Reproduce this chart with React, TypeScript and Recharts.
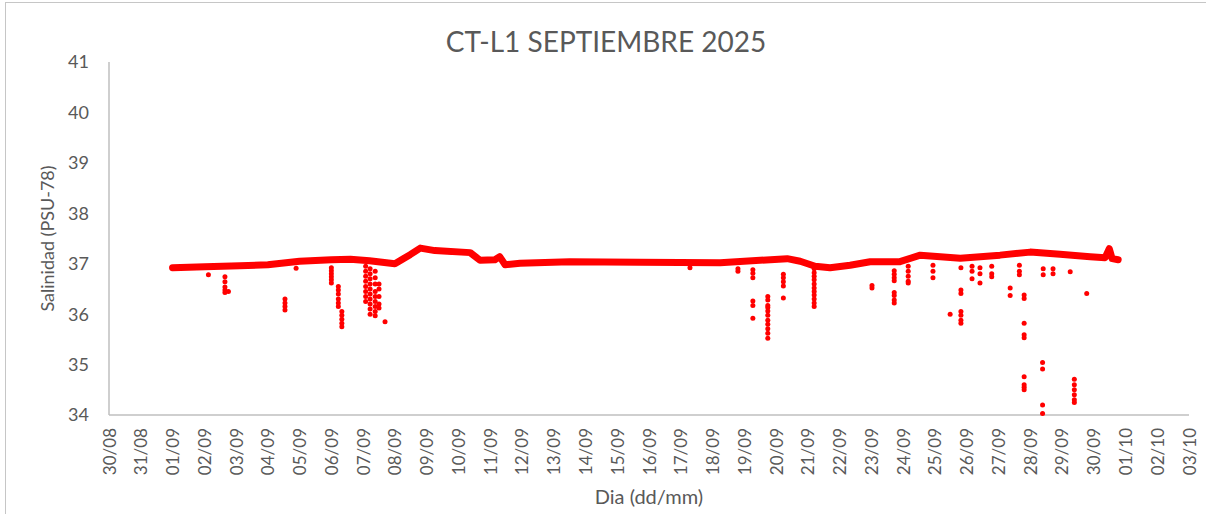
import React from "react";
import { ComposedChart, Line, Scatter, XAxis, YAxis } from "recharts";

// x values are days counted from 30/08 (0) to 03/10 (34)
const dayLabels = [
  "30/08", "31/08", "01/09", "02/09", "03/09", "04/09", "05/09", "06/09",
  "07/09", "08/09", "09/09", "10/09", "11/09", "12/09", "13/09", "14/09",
  "15/09", "16/09", "17/09", "18/09", "19/09", "20/09", "21/09", "22/09",
  "23/09", "24/09", "25/09", "26/09", "27/09", "28/09", "29/09", "30/09",
  "01/10", "02/10", "03/10",
];
const dayTicks = dayLabels.map((_, i) => i);
const salTicks = [34, 35, 36, 37, 38, 39, 40, 41];

// main continuous trace
const traceDays = [
  2.0, 3.02, 4.12, 5.0, 6.0, 7.0, 7.6, 8.2, 9.0, 9.48, 9.8, 10.26, 11.37,
  11.68, 12.15, 12.3, 12.47, 12.94, 14.5, 16.7, 19.24, 21.35, 21.76, 22.23,
  22.7, 23.33, 23.96, 24.9, 25.54, 26.8, 28.05, 29.0, 29.94, 30.89, 31.36,
  31.49, 31.58, 31.77,
];
const traceSal = [
  36.92, 36.94, 36.96, 36.98, 37.05, 37.08, 37.09, 37.06, 37.0, 37.18, 37.31,
  37.26, 37.22, 37.07, 37.08, 37.14, 36.98, 37.01, 37.04, 37.03, 37.02, 37.1,
  37.05, 36.95, 36.92, 36.97, 37.04, 37.04, 37.17, 37.11, 37.17, 37.23, 37.19,
  37.14, 37.12, 37.3, 37.1, 37.08,
];

// low readings below the trace, grouped by time
const dropDays = [
  3.13, 3.65, 3.76, 5.54, 5.89, 7.0, 7.22, 7.33, 8.08, 8.22, 8.38, 8.5, 8.69,
  18.29, 19.8, 20.27, 20.74, 21.23, 22.2, 24.02, 24.72, 25.16, 25.94, 26.48,
  26.82, 27.17, 27.42, 27.79, 28.37, 28.66, 28.81, 29.39, 29.41, 29.72, 30.26,
  30.39, 30.78,
];
const dropSal = [
  [36.78],
  [36.74, 36.64, 36.54, 36.48, 36.43],
  [36.45],
  [36.3, 36.22, 36.15, 36.08],
  [36.91],
  [36.92, 36.86, 36.8, 36.74, 36.68, 36.62],
  [36.55, 36.48, 36.4, 36.3, 36.22, 36.15],
  [36.05, 35.98, 35.9, 35.82, 35.75],
  [36.95, 36.85, 36.75, 36.65, 36.55, 36.45, 36.35, 36.25],
  [36.9, 36.8, 36.7, 36.6, 36.5, 36.4, 36.3, 36.2, 36.1, 36.0],
  [36.85, 36.72, 36.6, 36.45, 36.35, 36.25, 36.15, 36.05, 35.97],
  [36.6, 36.5, 36.35, 36.2, 36.12],
  [35.85],
  [36.92],
  [36.9, 36.85],
  [36.88, 36.81, 36.72, 36.26, 36.17, 35.92],
  [36.35, 36.28, 36.17, 36.13, 36.06, 35.98, 35.88, 35.8, 35.71, 35.62, 35.52],
  [36.79, 36.72, 36.64, 36.56, 36.32],
  [36.9, 36.82, 36.75, 36.68, 36.6, 36.52, 36.45, 36.38, 36.3, 36.22, 36.15],
  [36.57, 36.52],
  [36.86, 36.79, 36.72, 36.66, 36.43, 36.37, 36.28, 36.22],
  [36.95, 36.85, 36.75, 36.65, 36.62],
  [36.97, 36.85, 36.72],
  [36.0],
  [36.92, 36.48, 36.41, 36.05, 35.98, 35.88, 35.82],
  [36.95, 36.85, 36.7],
  [36.92, 36.8, 36.62],
  [36.95, 36.8, 36.74],
  [36.52, 36.37],
  [36.97, 36.85, 36.78],
  [36.38, 36.31, 35.82, 35.59, 35.53, 34.76, 34.6, 34.55, 34.5],
  [35.04, 34.91, 34.2, 34.03],
  [36.9, 36.78],
  [36.9, 36.8],
  [36.84],
  [34.71, 34.6, 34.5, 34.4, 34.3, 34.25],
  [36.41],
];

const traceData = traceDays.map((d, i) => ({ d, v: traceSal[i] }));
const dropData = dropDays.flatMap((d, i) => dropSal[i].map((v) => ({ d, v })));

const RED = "#ff0000";
const GREY_TEXT = "#595959";
const AXIS = "#bfbfbf";
const FONT = "Lato, 'Noto Sans', sans-serif";

function DayTick({ x, y, payload }: any) {
  const ty = y + 5;
  return (
    <text
      x={x}
      y={ty}
      transform={`rotate(-90 ${x} ${ty})`}
      textAnchor="end"
      dominantBaseline="central"
      fill={GREY_TEXT}
      fontSize={17}
      fontFamily={FONT}
    >
      {dayLabels[payload.value]}
    </text>
  );
}

export default function App() {
  return (
    <div
      style={{
        position: "absolute",
        left: 0,
        top: 0,
        width: 1206,
        height: 514,
        background: "#fff",
        overflow: "hidden",
      }}
    >
      <div
        style={{
          position: "absolute",
          left: 5,
          top: 2,
          width: 1220,
          height: 530,
          border: "1px solid #c6c6c6",
        }}
      />
      <div
        style={{
          position: "absolute",
          left: 0,
          top: 24,
          width: 1212,
          textAlign: "center",
          fontFamily: FONT,
          fontSize: 28,
          color: GREY_TEXT,
          lineHeight: "34px",
        }}
      >
        CT-L1 SEPTIEMBRE 2025
      </div>
      <ComposedChart
        width={1206}
        height={514}
        margin={{ top: 62, right: 17, bottom: 0, left: 0 }}
        style={{ position: "absolute", left: 0, top: 0 }}
      >
        <XAxis
          dataKey="d"
          type="number"
          domain={[0, 34]}
          ticks={dayTicks}
          interval={0}
          height={99}
          tick={<DayTick />}
          tickLine={false}
          axisLine={{ stroke: AXIS, strokeWidth: 1.5 }}
          label={{
            value: "Dia (dd/mm)",
            position: "insideBottom",
            offset: 10,
            fill: GREY_TEXT,
            fontSize: 20,
            fontFamily: FONT,
          }}
        />
        <YAxis
          dataKey="v"
          type="number"
          domain={[34, 41]}
          ticks={salTicks}
          interval={0}
          width={109}
          tickLine={false}
          axisLine={{ stroke: AXIS, strokeWidth: 1.5 }}
          tick={{ fill: GREY_TEXT, fontSize: 18, fontFamily: FONT }}
          tickMargin={14}
          label={{
            value: "Salinidad (PSU-78)",
            angle: -90,
            position: "insideLeft",
            offset: 48,
            fill: GREY_TEXT,
            fontSize: 18,
            fontFamily: FONT,
            style: { textAnchor: "middle" },
          }}
        />
        <Scatter
          data={dropData}
          dataKey="v"
          fill={RED}
          shape={(p: any) => <circle cx={p.cx} cy={p.cy} r={2.5} fill={RED} />}
          isAnimationActive={false}
        />
        <Line
          data={traceData}
          dataKey="v"
          type="linear"
          stroke={RED}
          strokeWidth={7}
          strokeLinejoin="round"
          strokeLinecap="round"
          dot={false}
          activeDot={false}
          isAnimationActive={false}
        />
      </ComposedChart>
    </div>
  );
}
